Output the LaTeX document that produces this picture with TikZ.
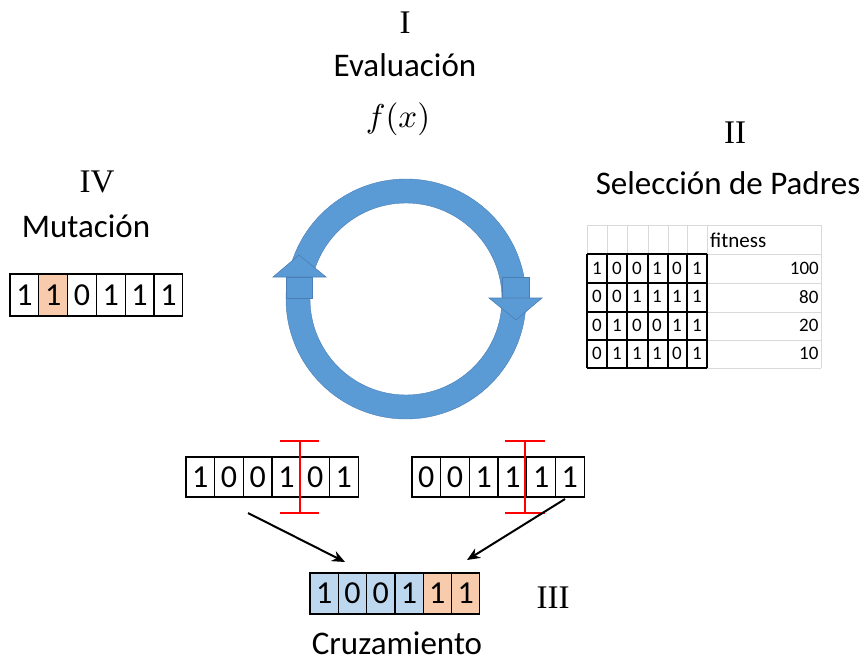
\documentclass[tikz,border=0pt]{standalone}
\usepackage{graphicx}
\usepackage{fontspec}
\setmainfont{Carlito}
\newfontfamily\romanfont{Liberation Serif}
\usetikzlibrary{arrows.meta}
\definecolor{ringblue}{HTML}{5B9BD5}
\definecolor{ringedge}{HTML}{4A7EB5}
\definecolor{cellblue}{HTML}{BDD7EE}
\definecolor{cellorange}{HTML}{F8CBAD}
\definecolor{gridgray}{HTML}{D9D9D9}
\tikzset{
  bitcell/.style={draw=black, line width=1.3pt, minimum width=28.7pt, minimum height=41pt, inner sep=0pt,
    font=\fontsize{32}{34}\selectfont},
  tcell/.style={minimum width=20pt, minimum height=28.7pt, inner sep=0pt, font=\fontsize{19}{21}\selectfont},
  lbl/.style={font=\fontsize{33}{36}\selectfont, inner sep=0pt},
  roman/.style={font=\romanfont\fontsize{33}{35}\selectfont, inner sep=0pt},
  ringpart/.style={fill=ringblue, draw=ringedge, line width=0.6pt},
  cutline/.style={draw=red, line width=2pt},
  flow/.style={draw=black, line width=2pt, -{Stealth[length=13pt,width=11pt]}}
}
\begin{document}
\begin{tikzpicture}[x=1pt,y=-1pt]
\useasboundingbox (0,0) rectangle (861,663);
% titles
\node[roman] (nI) at (405,23) {I};
\node[lbl] (eval) at (405,65) {Evaluación};
\node[inner sep=0pt] (fx) at (398,119) {\scalebox{3.3}{$f(x)$}};
\node[roman] (nII) at (735,133) {II};
\node[lbl] (sel) at (728,183) {Selección de Padres};
\node[roman] (nIV) at (97,182) {IV};
\node[lbl] (mut) at (86,226) {Mutación};
\node[roman] (nIII) at (553,598) {III};
\node[lbl] (cruz) at (397,643) {Cruzamiento};
% ring
\fill[ringblue, even odd rule] (406,299) circle[radius=120] (406,299) circle[radius=96];
\draw[ringedge, line width=0.4pt] (406,299) circle[radius=120] (406,299) circle[radius=96];
\path[ringpart] (286,277) rectangle (312,298);
\path[ringpart] (273,277) -- (299,255) -- (326,277) -- cycle;
\path[ringpart] (502,277) rectangle (529,298);
\path[ringpart] (489,298) -- (516,320) -- (542,298) -- cycle;
% mutation
\foreach \b/\c [count=\i] in {1/white,1/cellorange,0/white,1/white,1/white,1/white}
  \node[bitcell, fill=\c, minimum width=28.8pt, minimum height=42pt] (m\i) at (10+28.8*\i-14.4,295) {\b};
% parents
\foreach \b [count=\i] in {1,0,0,1,0,1}
  \node[bitcell, minimum height=40pt] (p\i) at (186+28.7*\i-14.35,477) {\b};
\foreach \b [count=\i] in {0,0,1,1,1,1}
  \node[bitcell, minimum height=40pt] (q\i) at (412+28.7*\i-14.35,477) {\b};
% child
\foreach \b/\c [count=\i] in {1/cellblue,0/cellblue,0/cellblue,1/cellblue,1/cellorange,1/cellorange}
  \node[bitcell, fill=\c, minimum width=28.3pt] (c\i) at (310+28.3*\i-14.15,593.5) {\b};
% cut markers
\draw[cutline] (280,441) -- (319,441) (300,441) -- (300,513) (280,513) -- (319,513);
\draw[cutline] (505,441) -- (545,441) (525,441) -- (525,513) (505,513) -- (545,513);
% arrows
\coordinate (a1) at (248,513);
\coordinate (a2) at (345,562);
\coordinate (b1) at (565,499);
\coordinate (b2) at (467,560);
\draw[flow] (a1) -- (a2);
\draw[flow] (b1) -- (b2);
% table
\draw[gridgray, line width=1pt] (587,225) -- (821,225) (587,254) -- (821,254);
\foreach \y in {283,312,340,368} \draw[gridgray, line width=1pt] (707,\y) -- (821,\y);
\draw[gridgray, line width=1pt] (821,225) -- (821,368);
\foreach \x in {587,607,627,648,668,687,707} \draw[gridgray, line width=1pt] (\x,225) -- (\x,254);
\foreach \x in {587,607,627,648,668,687,707} \draw[black, line width=1.2pt] (\x,254) -- (\x,368);
\foreach \y in {254,283,312,340,368} \draw[black, line width=1.2pt] (587,\y) -- (707,\y);
\node[tcell, anchor=west, font=\fontsize{21}{23}\selectfont] (fit) at (710,240) {fitness};
\foreach \row/\bits/\val [count=\r] in {1/{1,0,0,1,0,1}/100, 2/{0,0,1,1,1,1}/80, 3/{0,1,0,0,1,1}/20, 4/{0,1,1,1,0,1}/10}{
  \pgfmathsetmacro{\yc}{254+28.5*\r-14.25}
  \foreach \b [count=\i] in \bits {
    \pgfmathsetmacro{\xc}{587+20*\i-10}
    \node[tcell] (t\r-\i) at (\xc,\yc) {\b};
  }
  \node[tcell, anchor=east] (v\r) at (819,\yc) {\val};
}
\end{tikzpicture}
\end{document}
